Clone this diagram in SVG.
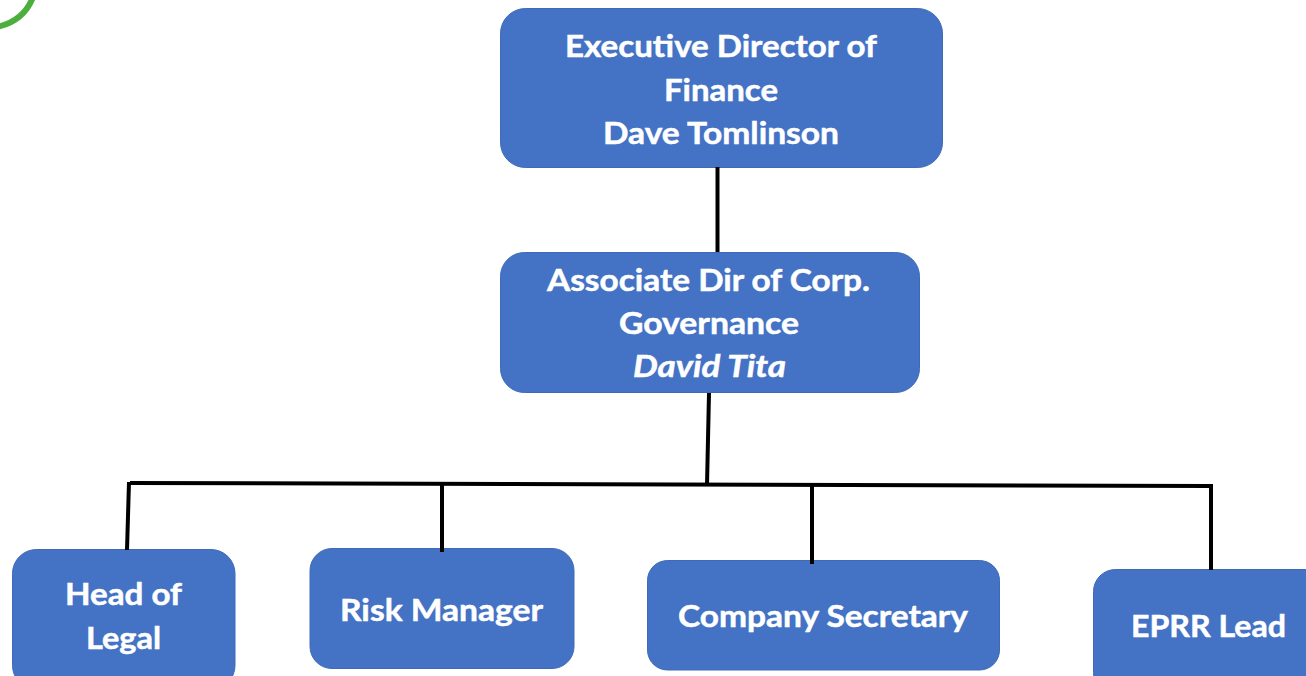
<svg xmlns="http://www.w3.org/2000/svg" width="1306" height="676" viewBox="0 0 1306 676">
<style>
.box{fill:#4472c4;stroke:#3f6ab8;stroke-width:1}
.t{font-family:Lato,"Open Sans","Liberation Sans",sans-serif;font-weight:700;font-size:31px;fill:#fff;stroke:#fff;stroke-width:.5;text-anchor:middle}
.i{font-style:italic}
.c{stroke:#000;stroke-width:4;fill:none}
</style>
<rect width="1306" height="676" fill="#fff"/>
<path d="M-3 27 Q24 21 33 -3" fill="none" stroke="#4cae3c" stroke-width="6"/>
<g id="node-exec"><rect class="box" x="500.500" y="8.500" width="442" height="159" rx="25"/>
<text class="t" x="721" y="57" textLength="312" lengthAdjust="spacingAndGlyphs">Executive Director of</text>
<text class="t" x="721" y="100.500" textLength="114" lengthAdjust="spacingAndGlyphs">Finance</text>
<text class="t" x="721" y="143.500" textLength="236" lengthAdjust="spacingAndGlyphs">Dave Tomlinson</text></g>
<g id="node-assoc"><rect class="box" x="500.500" y="252.500" width="419" height="140" rx="24"/>
<text class="t" x="708.500" y="290.500" textLength="323" lengthAdjust="spacingAndGlyphs">Associate Dir of Corp.</text>
<text class="t" x="709" y="334" textLength="180" lengthAdjust="spacingAndGlyphs">Governance</text>
<text class="t i" x="709.500" y="377" textLength="153" lengthAdjust="spacingAndGlyphs">David Tita</text></g>
<g id="node-legal"><rect class="box" x="12.500" y="549.500" width="222.500" height="140" rx="24"/>
<text class="t" x="123.500" y="605" textLength="117" lengthAdjust="spacingAndGlyphs">Head of</text>
<text class="t" x="123.500" y="649" textLength="75" lengthAdjust="spacingAndGlyphs">Legal</text></g>
<g id="node-risk"><rect class="box" x="310" y="548.500" width="264" height="120" rx="22"/>
<text class="t" x="441.500" y="620.500" textLength="203" lengthAdjust="spacingAndGlyphs">Risk Manager</text></g>
<g id="node-company"><rect class="box" x="647.500" y="560.500" width="352" height="109.500" rx="20"/>
<text class="t" x="823" y="626.500" textLength="290" lengthAdjust="spacingAndGlyphs">Company Secretary</text></g>
<g id="node-eprr"><rect class="box" x="1093.500" y="569.500" width="240" height="125" rx="22"/>
<text class="t" x="1208.500" y="636.500" textLength="155" lengthAdjust="spacingAndGlyphs">EPRR Lead</text></g>
<g id="connectors">
<line class="c" x1="717.500" y1="167" x2="717.500" y2="252"/>
<line class="c" x1="709" y1="393" x2="707" y2="485"/>
<line class="c" x1="130" y1="483" x2="1211" y2="486"/>
<line class="c" x1="129" y1="482" x2="127" y2="550"/>
<line class="c" x1="442" y1="485" x2="442" y2="552"/>
<line class="c" x1="812" y1="485" x2="812" y2="564"/>
<line class="c" x1="1211" y1="484" x2="1211" y2="570"/>
</g>
</svg>
